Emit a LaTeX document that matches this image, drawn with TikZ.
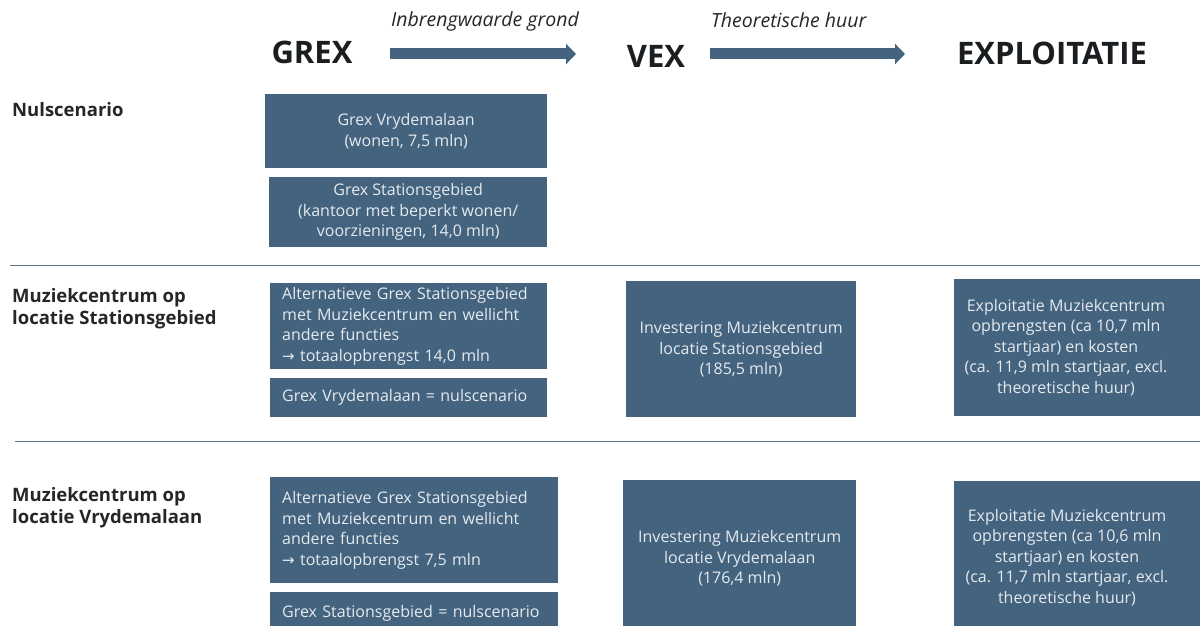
\documentclass[tikz,border=0pt]{standalone}
\usepackage{fontspec}
\setmainfont{Open Sans}
\newfontfamily\symfont{DejaVu Sans}
\usetikzlibrary{arrows.meta}
\definecolor{boxc}{HTML}{43637F}
\definecolor{boxtxt}{HTML}{E6EAEE}
\definecolor{headc}{HTML}{1B1E21}
\definecolor{labc}{HTML}{262626}
\definecolor{linec}{HTML}{56768F}
\newcommand{\rarr}{{\symfont\fontsize{15}{20.5}\selectfont →}}
\tikzset{
  box/.style={fill=boxc, text=boxtxt, inner sep=0pt, anchor=north west,
    font=\fontsize{16}{20.5}\selectfont},
  cbox/.style={box, align=center},
  lbox/.style={box, align=left, inner xsep=12pt},
  btext/.style={text=boxtxt, inner sep=0pt, align=center,
    font=\fontsize{16}{20.5}\selectfont},
  head/.style={text=headc, inner sep=0pt, font=\fontsize{31}{36}\selectfont\bfseries},
  rowlab/.style={text=labc, inner sep=0pt, anchor=north west, align=left,
    font=\fontsize{18.5}{22.5}\selectfont\bfseries},
  arrlab/.style={text=labc, inner sep=0pt, anchor=base west,
    font=\fontsize{19.5}{22}\selectfont\itshape},
  bigarrow/.style={draw=boxc, line width=11pt,
    -{Triangle[length=10pt,width=20pt]}},
  sepline/.style={draw=linec, line width=1pt}
}
\begin{document}
\begin{tikzpicture}[x=1pt,y=-1pt]
\useasboundingbox (0,0) rectangle (1200,626);
\clip (0,0) rectangle (1200,626);

% headers
\node[head] (grex) at (312,52) {GREX};
\node[head] (vex) at (656,56) {VEX};
\node[head] (expl) at (1052,53) {EXPLOITATIE};

\coordinate (a1s) at (390,54);
\coordinate (a1e) at (576,54);
\coordinate (a2s) at (710,54);
\coordinate (a2e) at (905,54);
\draw[bigarrow] (a1s) -- (a1e);
\draw[bigarrow] (a2s) -- (a2e);
\node[arrlab] (l1) at (391,27) {Inbrengwaarde grond};
\node[arrlab] (l2) at (711,28) {Theoretische huur};

% row labels
\node[rowlab] (r1) at (12,102.5) {Nulscenario};
\node[rowlab] (r2) at (12,288) {Muziekcentrum op\\locatie Stationsgebied};
\node[rowlab] (r3) at (12,487) {Muziekcentrum op\\locatie Vrydemalaan};

% separators
\draw[sepline] (10,265) -- (1200,265);
\draw[sepline] (15,441) -- (1200,441);

% row 1
\node[cbox, minimum width=282pt, minimum height=74pt] (a1) at (265,94)
  {Grex Vrydemalaan\\(wonen, 7,5 mln)};
\node[cbox, minimum width=278pt, minimum height=70pt] (a2) at (269,177)
  {Grex Stationsgebied\\(kantoor met beperkt wonen/\\voorzieningen, 14,0 mln)};

% row 2
\node[lbox, text width=253pt, minimum height=86pt] (b1) at (270,283)
  {Alternatieve Grex Stationsgebied\\met Muziekcentrum en wellicht\\andere functies\\\rarr{} totaalopbrengst 14,0 mln};
\node[lbox, text width=253pt, minimum height=39pt] (b2) at (270,378)
  {Grex Vrydemalaan = nulscenario};
\node[cbox, minimum width=230pt, minimum height=136pt] (b3) at (626,281)
  {Investering Muziekcentrum\\locatie Stationsgebied\\(185,5 mln)};
\node[box, minimum width=256pt, minimum height=137pt] (b4) at (954,279) {};
\node[btext] (b4t) at (1066,347.5)
  {Exploitatie Muziekcentrum\\opbrengsten (ca 10,7 mln\\startjaar) en kosten\\(ca. 11,9 mln startjaar, excl.\\theoretische huur)};

% row 3
\node[lbox, text width=264pt, minimum height=106pt] (c1) at (270,477)
  {Alternatieve Grex Stationsgebied\\met Muziekcentrum en wellicht\\andere functies\\\rarr{} totaalopbrengst 7,5 mln};
\node[lbox, text width=264pt, minimum height=42pt] (c2) at (270,592)
  {Grex Stationsgebied = nulscenario};
\node[cbox, minimum width=233pt, minimum height=156pt] (c3) at (623,480)
  {Investering Muziekcentrum\\locatie Vrydemalaan\\(176,4 mln)};
\node[box, minimum width=256pt, minimum height=153pt] (c4) at (954,481) {};
\node[btext] (c4t) at (1067,557.5)
  {Exploitatie Muziekcentrum\\opbrengsten (ca 10,6 mln\\startjaar) en kosten\\(ca. 11,7 mln startjaar, excl.\\theoretische huur)};
\end{tikzpicture}
\end{document}
